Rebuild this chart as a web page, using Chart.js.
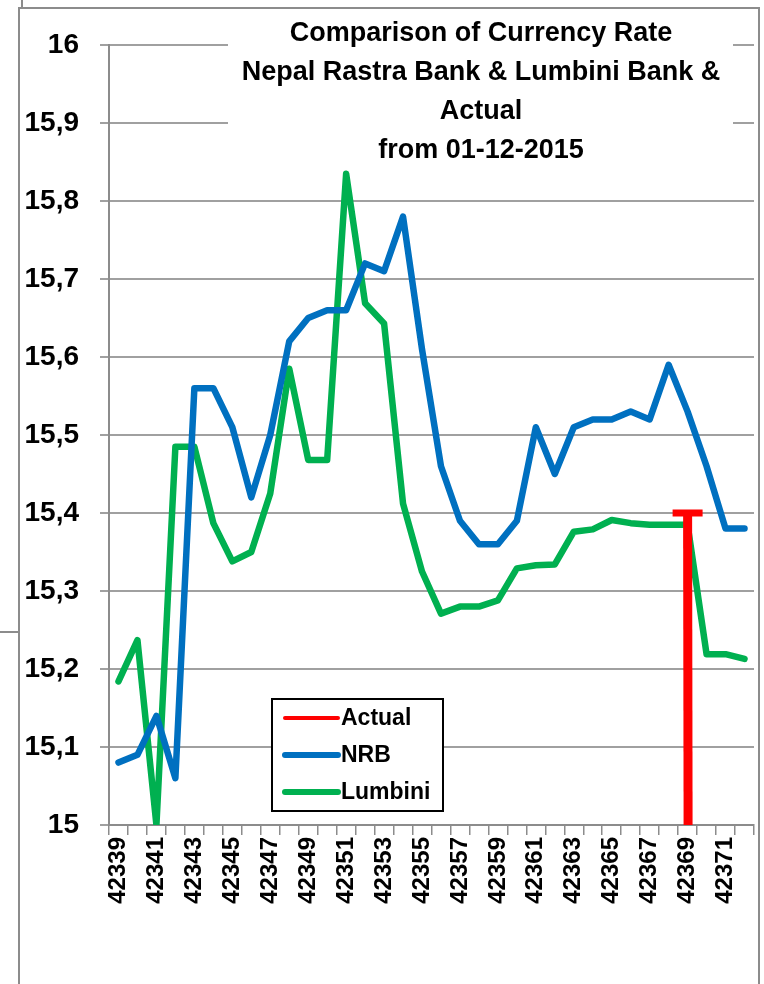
<!DOCTYPE html>
<html>
<head>
<meta charset="utf-8">
<script src="https://cdn.jsdelivr.net/npm/chart.js@4/dist/chart.umd.min.js"></script>
<style>
  body { margin: 0; background: #fff; }
  #wrap { position: relative; width: 764px; height: 984px; overflow: hidden; }
  canvas { position: absolute; left: 0; top: 0; }
  .frame { position: absolute; background: #8c8c8c; }
</style>
</head>
<body>
<div id="wrap">
  <canvas id="rateChart" width="764" height="984"></canvas>
  <!-- outer chart frame lines -->
  <div class="frame" style="left:18px;top:7px;width:2px;height:977px"></div>
  <div class="frame" style="left:18px;top:7px;width:742px;height:2px"></div>
  <div class="frame" style="left:758px;top:7px;width:2px;height:977px"></div>
  <div class="frame" style="left:0;top:631px;width:19px;height:2px"></div>
  <div class="frame" style="left:21px;top:0;width:2px;height:8px"></div>
</div>
<script>
// Dates (Excel serial numbers), starting 01-12-2015
const dates = [
  "42339", "42340", "42341", "42342", "42343", "42344", "42345", "42346",
  "42347", "42348", "42349", "42350", "42351", "42352", "42353", "42354",
  "42355", "42356", "42357", "42358", "42359", "42360", "42361", "42362",
  "42363", "42364", "42365", "42366", "42367", "42368", "42369", "42370",
  "42371", "42372"
];

// Nepal Rastra Bank rate
const nrbRates = [
  15.08, 15.09, 15.14, 15.06, 15.56, 15.56, 15.51, 15.42,
  15.50, 15.62, 15.65, 15.66, 15.66, 15.72, 15.71, 15.78,
  15.61, 15.46, 15.39, 15.36, 15.36, 15.39, 15.51, 15.45,
  15.51, 15.52, 15.52, 15.53, 15.52, 15.59, 15.53, 15.46,
  15.38, 15.38
];

// Lumbini Bank rate
const lumbiniRates = [
  15.184, 15.237, 15.0, 15.485, 15.485, 15.387, 15.338, 15.35,
  15.425, 15.585, 15.468, 15.468, 15.835, 15.669, 15.643, 15.412,
  15.325, 15.271, 15.28, 15.28, 15.288, 15.329, 15.333, 15.334,
  15.376, 15.379, 15.391, 15.387, 15.385, 15.385, 15.385, 15.219,
  15.219, 15.213
];

// Actual rate (only one value, next cell is 0 so the line drops straight down)
const actualRates = [
  null, null, null, null, null, null, null, null,
  null, null, null, null, null, null, null, null,
  null, null, null, null, null, null, null, null,
  null, null, null, null, null, null, 15.40, 0,
  null, null
];

const titleLines = [
  "Comparison of Currency Rate",
  "Nepal Rastra Bank & Lumbini Bank &",
  "Actual",
  "from 01-12-2015"
];

const FONT = "'Liberation Sans', Arial, sans-serif";

// Title box + legend box drawn on top like Excel does
const overlayPlugin = {
  id: "overlay",
  afterDraw(chart) {
    const ctx = chart.ctx;
    ctx.save();

    // title (white box hides grid lines behind it)
    ctx.fillStyle = "#fff";
    ctx.fillRect(228, 12, 505, 156);
    ctx.fillStyle = "#000";
    ctx.font = "bold 27px " + FONT;
    ctx.textAlign = "center";
    ctx.textBaseline = "middle";
    titleLines.forEach((line, i) => {
      ctx.fillText(line, 481, 34 + i * 39);
    });

    // legend
    const box = { x: 272, y: 699, w: 171, h: 112 };
    ctx.fillStyle = "#fff";
    ctx.fillRect(box.x, box.y, box.w, box.h);
    ctx.strokeStyle = "#000";
    ctx.lineWidth = 2;
    ctx.strokeRect(box.x, box.y, box.w, box.h);

    const items = [
      { text: "Actual", color: "#ff0000", width: 4 },
      { text: "NRB", color: "#0070c0", width: 6 },
      { text: "Lumbini", color: "#00b050", width: 6 }
    ];
    ctx.lineCap = "round";
    ctx.textAlign = "left";
    ctx.font = "bold 23px " + FONT;
    items.forEach((item, i) => {
      const y = 718 + i * 37;
      ctx.strokeStyle = item.color;
      ctx.lineWidth = item.width;
      ctx.beginPath();
      ctx.moveTo(285, y);
      ctx.lineTo(338, y);
      ctx.stroke();
      ctx.fillStyle = "#000";
      ctx.fillText(item.text, 341, y + 1);
    });
    ctx.restore();
  }
};

const ctx = document.getElementById("rateChart").getContext("2d");

new Chart(ctx, {
  type: "line",
  data: {
    labels: dates,
    datasets: [
      {
        label: "Actual",
        data: actualRates,
        borderColor: "#ff0000",
        backgroundColor: "#ff0000",
        borderWidth: 9,
        spanGaps: false,
        pointStyle: "line",
        pointRadius: (c) => (c.dataIndex === 30 ? 15 : 0),
        pointBorderWidth: 7,
        pointBorderColor: "#ff0000",
        pointHoverRadius: 0
      },
      {
        label: "NRB",
        data: nrbRates,
        borderColor: "#0070c0",
        backgroundColor: "#0070c0",
        borderWidth: 6.5,
        pointRadius: 0,
        borderCapStyle: "round",
        borderJoinStyle: "round"
      },
      {
        label: "Lumbini",
        data: lumbiniRates,
        borderColor: "#00b050",
        backgroundColor: "#00b050",
        borderWidth: 6.5,
        pointRadius: 0,
        borderCapStyle: "round",
        borderJoinStyle: "round"
      }
    ]
  },
  options: {
    responsive: false,
    animation: false,
    layout: { padding: { top: 45, right: 10, bottom: 0, left: 0 } },
    plugins: {
      legend: { display: false },
      title: { display: false },
      tooltip: { enabled: false }
    },
    scales: {
      x: {
        offset: true,
        afterFit: (scale) => {
          scale.height = 159;
          scale.paddingLeft = 0;
          scale.paddingRight = 0;
        },
        grid: {
          offset: true,
          drawOnChartArea: false,
          drawTicks: true,
          tickLength: 10,
          color: "#8c8c8c",
          lineWidth: 1.5
        },
        border: { color: "#8c8c8c", width: 2 },
        ticks: {
          autoSkip: false,
          maxRotation: 90,
          minRotation: 90,
          padding: 2,
          color: "#000",
          font: { family: FONT, size: 24, weight: "bold" },
          callback: function (value, index) {
            return index % 2 === 0 ? this.getLabelForValue(value) : "";
          }
        }
      },
      y: {
        min: 15,
        max: 16,
        afterFit: (scale) => { scale.width = 109; },
        grid: {
          color: "#a0a0a0",
          lineWidth: 2,
          drawTicks: true,
          tickLength: 9
        },
        border: { color: "#8c8c8c", width: 2 },
        ticks: {
          stepSize: 0.1,
          padding: 21,
          color: "#000",
          font: { family: FONT, size: 28, weight: "bold" },
          callback: (v) => String(Number(v.toFixed(1))).replace(".", ",")
        }
      }
    }
  },
  plugins: [overlayPlugin]
});
</script>
</body>
</html>
